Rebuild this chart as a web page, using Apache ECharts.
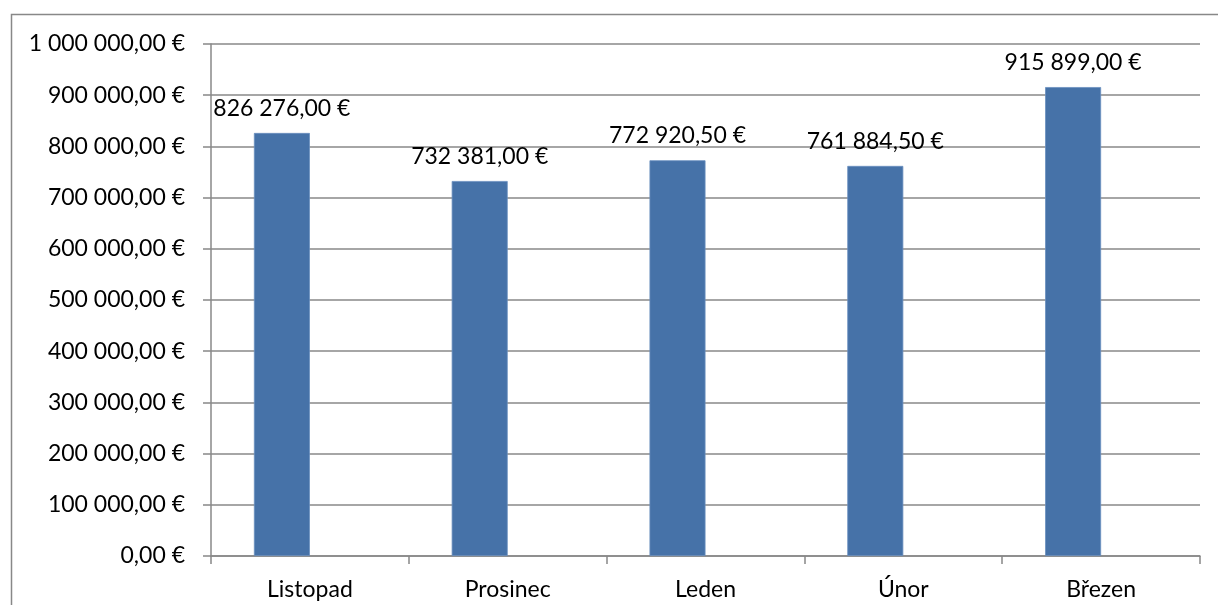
<!DOCTYPE html>
<html><head><meta charset="utf-8">
<script src="https://cdn.jsdelivr.net/npm/echarts@6/dist/echarts.min.js"></script>
<style>html,body{margin:0;padding:0;background:#fff}#c{width:1218px;height:605px}</style>
</head><body><div id="c"></div>
<script>
const categories = ['Listopad', 'Prosinec', 'Leden', 'Únor', 'Březen'];
const values = [826276.00, 732381.00, 772920.50, 761884.50, 915899.00];
const emptySeries = [];
const yMin = 0, yMax = 1000000, yStep = 100000;

function fmt(v) {
  const fixed = Number(v).toFixed(2);
  const parts = fixed.split('.');
  const intPart = parts[0].replace(/\B(?=(\d{3})+(?!\d))/g, ' ');
  return intPart + ',' + parts[1] + ' €';
}

const FONT = 'Lato';
const FS = 23;
const GRAY = '#888888';
const chart = echarts.init(document.getElementById('c'), null, {renderer: 'canvas'});
chart.setOption({
  animation: false,
  backgroundColor: '#ffffff',
  graphic: [{
    type: 'rect', left: 9, top: 12,
    shape: {x: 0, y: 0, width: 1400, height: 800},
    style: {fill: 'none', stroke: GRAY, lineWidth: 1.5},
    silent: true, z: -1
  }],
  grid: {left: 211, right: 18, top: 44, bottom: 49, containLabel: false},
  xAxis: {
    type: 'category', data: categories,
    axisLine: {show: true, lineStyle: {color: GRAY, width: 1.5}},
    axisTick: {show: true, length: 8, lineStyle: {color: GRAY, width: 1.5}},
    axisLabel: {color: '#000', fontFamily: FONT, fontSize: FS, margin: 22}
  },
  yAxis: {
    type: 'value', min: yMin, max: yMax, interval: yStep,
    axisLine: {show: true, lineStyle: {color: GRAY, width: 1.5}},
    axisTick: {show: true, length: 8, lineStyle: {color: GRAY, width: 1.5}},
    splitLine: {show: true, lineStyle: {color: GRAY, width: 1.5}},
    axisLabel: {color: '#000', fontFamily: FONT, fontSize: FS, margin: 26, formatter: fmt}
  },
  series: [{
    type: 'bar', data: values, barWidth: 56, barGap: '0%',
    itemStyle: {color: '#4672A8', borderColor: '#6a8fbf', borderWidth: 0.8},
    label: {show: true, position: 'top', distance: 13, color: '#000', fontFamily: FONT, fontSize: FS, formatter: p => fmt(p.value)}
  }, {
    type: 'bar', data: emptySeries, barWidth: 56, barGap: '0%'
  }]
});
</script></body></html>
